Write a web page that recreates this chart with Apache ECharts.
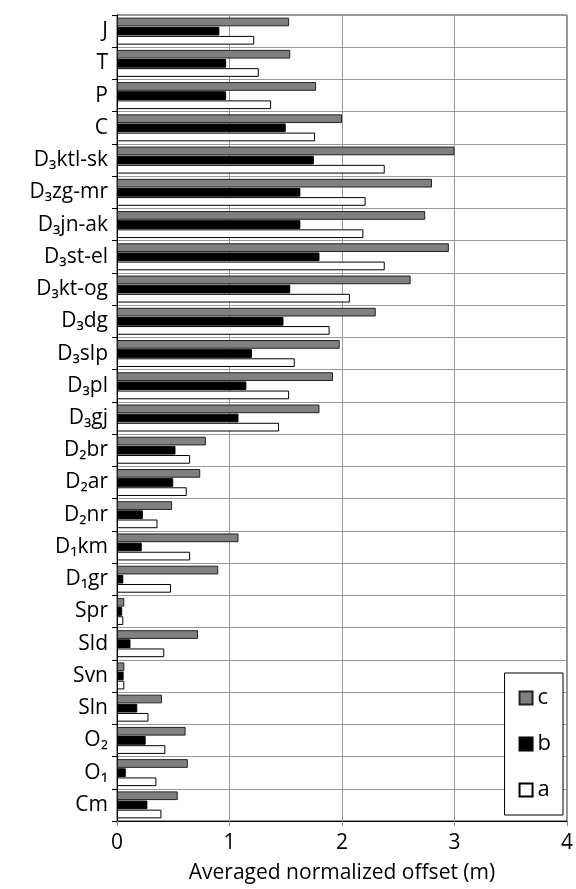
<!DOCTYPE html>
<html><head><meta charset="utf-8">
<script src="https://cdn.jsdelivr.net/npm/echarts@6/dist/echarts.min.js"></script>
<style>html,body{margin:0;padding:0;background:#fff}#c{width:576px;height:889px}</style>
</head><body><div id="c"></div>
<script>
const categories = ['J','T','P','C','D₃ktl-sk','D₃zg-mr','D₃jn-ak','D₃st-el','D₃kt-og','D₃dg','D₃slp','D₃pl','D₃gj','D₂br','D₂ar','D₂nr','D₁km','D₁gr','Spr','Sld','Svn','Sln','O₂','O₁','Cm'];
const seriesC = [1.53,1.54,1.77,2.00,3.00,2.80,2.74,2.95,2.61,2.30,1.98,1.92,1.80,0.79,0.74,0.49,1.08,0.90,0.065,0.72,0.065,0.40,0.61,0.63,0.54];
const seriesB = [0.91,0.97,0.97,1.50,1.75,1.63,1.63,1.80,1.54,1.48,1.20,1.15,1.08,0.52,0.50,0.23,0.22,0.056,0.046,0.12,0.059,0.18,0.255,0.078,0.27];
const seriesA = [1.22,1.26,1.37,1.76,2.38,2.21,2.19,2.38,2.07,1.89,1.58,1.53,1.44,0.65,0.62,0.36,0.65,0.48,0.056,0.42,0.065,0.28,0.43,0.35,0.395];
const xTicks = [0,1,2,3,4];
const font = 'Open Sans';
const chart = echarts.init(document.getElementById('c'));
chart.setOption({
  animation:false,
  textStyle:{fontFamily:font},
  grid:{left:117,right:9,top:15,bottom:61,show:true,borderColor:'#333',borderWidth:1},
  legend:{
    orient:'vertical', right:13, bottom:74, icon:'rect', itemWidth:13, itemHeight:13, itemGap:24,
    borderColor:'#000', borderWidth:1, padding:[14,12,14,14], backgroundColor:'#fff',
    textStyle:{fontSize:22,color:'#000',fontFamily:font},
    data:['c','b','a']
  },
  xAxis:{
    type:'value', min:xTicks[0], max:xTicks[xTicks.length-1], interval:1,
    axisLine:{show:true,lineStyle:{color:'#000'}},
    axisTick:{show:true,length:5,lineStyle:{color:'#888'}},
    axisLabel:{fontSize:21,color:'#000',margin:12,fontFamily:font},
    splitLine:{show:true,lineStyle:{color:'#999',width:1}},
    name:'Averaged normalized offset (m)', nameLocation:'middle', nameGap:42,
    nameTextStyle:{fontSize:21,color:'#000',fontFamily:font}
  },
  yAxis:{
    type:'category', data:categories, inverse:true,
    axisLine:{show:true,lineStyle:{color:'#000'}},
    axisTick:{show:true,length:5,lineStyle:{color:'#000'}},
    axisLabel:{fontSize:21,color:'#000',margin:9,fontFamily:font},
    splitLine:{show:true,lineStyle:{color:'#999',width:1}}
  },
  series:[
    {name:'c',type:'bar',data:seriesC,barWidth:'27%',barGap:'5%',barCategoryGap:'14%',
     itemStyle:{color:'#808080',borderColor:'#222',borderWidth:1}},
    {name:'b',type:'bar',data:seriesB,barWidth:'27%',barGap:'5%',
     itemStyle:{color:'#000',borderColor:'#000',borderWidth:1}},
    {name:'a',type:'bar',data:seriesA,barWidth:'27%',barGap:'5%',
     itemStyle:{color:'#fff',borderColor:'#000',borderWidth:1}}
  ]
});
</script></body></html>
